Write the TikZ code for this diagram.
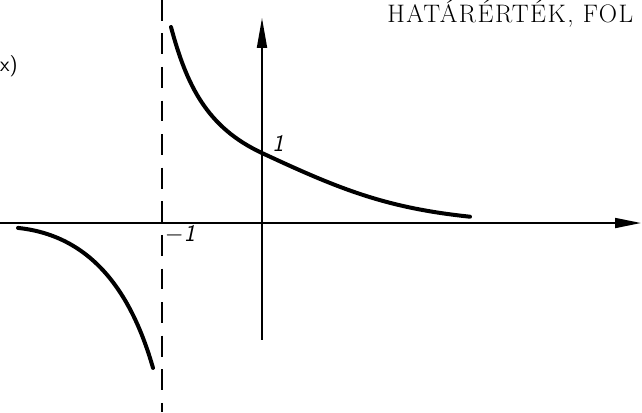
\documentclass[tikz,border=0pt]{standalone}
\usepackage{fontspec}
\newfontfamily\headfont{Latin Modern Roman}[LetterSpace=6]
\usetikzlibrary{arrows.meta}

\tikzset{
  axis/.style={line width=0.45mm, -{Triangle[length=6.5mm,width=2.5mm]}},
  branch/.style={line width=1mm, line cap=round},
  asym/.style={line width=0.5mm, dash pattern=on 5.2mm off 3.2mm},
  lab/.style={font=\fontsize{17}{20}\selectfont\sffamily\itshape, inner sep=0pt}
}

\begin{document}
\begin{tikzpicture}[x=2.5cm, y=1.75cm]
  \useasboundingbox (-2.62,-2.7) rectangle (3.80,3.186);
  \coordinate (O) at (0,0);
  \coordinate (XL) at (-2.62,0);
  \coordinate (XR) at (3.79,0);
  \coordinate (YB) at (0,-1.67);
  \coordinate (YT) at (0,2.93);
  \coordinate (AT) at (-1,3.19);  % asymptote x=-1
  \coordinate (AB) at (-1,-2.7);
  \coordinate (R0) at (-0.91,2.80);
  \coordinate (R1) at (0,1);
  \coordinate (R2) at (2.08,0.09);
  \coordinate (L0) at (-2.44,-0.07);
  \coordinate (L1) at (-1.09,-2.07);

  \draw[axis] (XL)--(XR);
  \draw[axis, -{Triangle[length=7.5mm,width=2.5mm]}] (YB)--(YT);
  \draw[asym] (AT)--(AB);

  % right branch
  \draw[branch] (R0) to[out=-75, in=155] (R1) to[out=-25, in=174] (R2);
  % left branch
  \draw[branch] (L0) to[out=-6, in=106] (L1);

  \node[lab] (one) at (0.16,1.14) {1};
  \node[lab] (mone) at (-0.82,-0.16) {$-$1};
  \node[font=\fontsize{15}{17}\selectfont\sffamily, inner sep=0pt, anchor=east] (fx) at (-2.44,2.24) {x)};
  \node[font=\headfont\fontsize{18}{20}\selectfont, inner sep=0pt, anchor=base west] (head) at (1.25,2.86) {HATÁRÉRTÉK, FOL};
\end{tikzpicture}
\end{document}
